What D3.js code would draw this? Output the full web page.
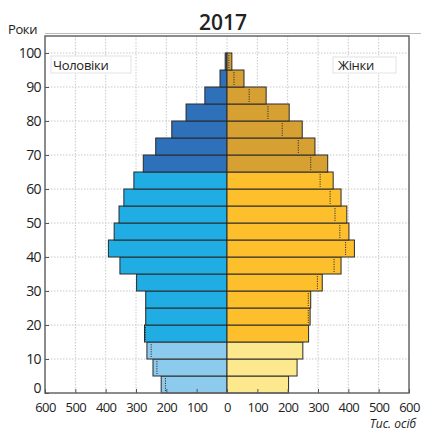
<!doctype html>
<html>
<head>
    <meta charset="utf-8">
    <style>
        body { margin: 0; background: #fff; }
        text { font-family: "Open Sans", sans-serif; fill: #222; }
        .grid line { stroke: #c8c8c8; stroke-dasharray: 1.5,1.5; }
        .axis text { font-size: 13px; letter-spacing: -0.6px; }
        .axis line { stroke: #555; }
        .axis path { display: none; }
    </style>
    <script src="https://d3js.org/d3.v7.min.js"></script>
</head>
<body>
<svg width="421" height="432"></svg>
<script>
// age groups, 5-year bands (lower bound)
var ages = [0, 5, 10, 15, 20, 25, 30, 35, 40, 45, 50, 55, 60, 65, 70, 75, 80, 85, 90, 95];
// thousand persons
var male   = [217, 244, 264, 272, 268, 268, 298, 353, 391, 372, 356, 340, 307, 276, 235, 182, 135, 73, 23, 6];
var female = [203, 231, 250, 269, 274, 276, 314, 376, 420, 402, 395, 376, 350, 332, 290, 248, 205, 129, 56, 16];
var xTicks = [-600, -500, -400, -300, -200, -100, 0, 100, 200, 300, 400, 500, 600];
var yTicks = [0, 10, 20, 30, 40, 50, 60, 70, 80, 90, 100];

var svg = d3.select("svg");

var x = d3.scaleLinear().domain([-600, 600]).range([45, 409]),
    y = d3.scaleLinear().domain([0, 105]).range([393, 36]);

function maleColor(a) { return a < 15 ? "#8dcbee" : (a < 65 ? "#1fade4" : "#2f70bb"); }
function femaleColor(a) { return a < 15 ? "#fde98d" : (a < 65 ? "#fdbf2b" : "#d6a033"); }

// thin line on top
svg.append("line")
    .attr("x1", 45).attr("x2", 421).attr("y1", 33.5).attr("y2", 33.5)
    .attr("stroke", "#bbb").attr("stroke-width", 1);

// grid
var grid = svg.append("g").attr("class", "grid");
grid.selectAll(".v").data(xTicks.slice(1, -1)).enter().append("line")
    .attr("x1", function(d) { return x(d); }).attr("x2", function(d) { return x(d); })
    .attr("y1", y(105)).attr("y2", y(0));
grid.selectAll(".h").data(yTicks.slice(1)).enter().append("line")
    .attr("x1", x(-600)).attr("x2", x(600))
    .attr("y1", function(d) { return y(d); }).attr("y2", function(d) { return y(d); });

// bars
var g = svg.append("g");
var h = y(0) - y(5);

g.selectAll(".m").data(ages).enter().append("rect")
    .attr("x", function(d, i) { return x(-male[i]); })
    .attr("y", function(d) { return y(d + 5); })
    .attr("width", function(d, i) { return x(0) - x(-male[i]); })
    .attr("height", h)
    .attr("fill", function(d) { return maleColor(d); })
    .attr("stroke", "#2a2a2a").attr("stroke-width", 1);

g.selectAll(".f").data(ages).enter().append("rect")
    .attr("x", x(0))
    .attr("y", function(d) { return y(d + 5); })
    .attr("width", function(d, i) { return x(female[i]) - x(0); })
    .attr("height", h)
    .attr("fill", function(d) { return femaleColor(d); })
    .attr("stroke", "#2a2a2a").attr("stroke-width", 1);

// dotted marker: the smaller sex mirrored onto the larger side
g.selectAll(".dot").data(ages).enter().append("line")
    .attr("x1", function(d, i) { return female[i] >= male[i] ? x(male[i]) : x(-female[i]); })
    .attr("x2", function(d, i) { return female[i] >= male[i] ? x(male[i]) : x(-female[i]); })
    .attr("y1", function(d) { return y(d + 5) + 2; })
    .attr("y2", function(d) { return y(d) - 2; })
    .attr("stroke", "#333").attr("stroke-width", 1)
    .attr("stroke-dasharray", "1.2,1.2");

// frame
svg.append("rect")
    .attr("x", x(-600)).attr("y", y(105))
    .attr("width", x(600) - x(-600)).attr("height", y(0) - y(105))
    .attr("fill", "none").attr("stroke", "#666").attr("stroke-width", 1.5);

// axes
svg.append("g").attr("class", "axis")
    .attr("transform", "translate(0," + y(0) + ")")
    .call(d3.axisBottom(x).tickValues(xTicks).tickSize(-4).tickPadding(10)
        .tickFormat(function(d) { return Math.abs(d); }));

var yAxis = svg.append("g").attr("class", "axis")
    .attr("transform", "translate(" + x(-600) + ",0)")
    .call(d3.axisLeft(y).tickValues(yTicks).tickSize(-4).tickPadding(4));
yAxis.selectAll(".tick text").style("font-size", "14px")
    .attr("dy", function(d) { return d === 0 ? "-0.05em" : "0.32em"; });

// texts
svg.append("text").attr("x", 223).attr("y", 30).attr("text-anchor", "middle")
    .style("font-size", "21px").style("font-weight", "600").text("2017");
svg.append("text").attr("x", 8).attr("y", 34)
    .style("font-size", "13px").style("letter-spacing", "-0.4px").text("Роки");
svg.append("text").attr("x", 416).attr("y", 428).attr("text-anchor", "end")
    .style("font-size", "12px").style("font-style", "italic").text("Тис. осіб");

// legend labels with faint boxes
svg.append("rect").attr("x", 51).attr("y", 56).attr("width", 80).attr("height", 17)
    .attr("fill", "#fff").attr("stroke", "#e2e2e2");
svg.append("text").attr("x", 53).attr("y", 70)
    .style("font-size", "13px").style("letter-spacing", "-0.3px").text("Чоловіки");
svg.append("rect").attr("x", 333).attr("y", 57).attr("width", 63).attr("height", 16)
    .attr("fill", "#fff").attr("stroke", "#e2e2e2");
svg.append("text").attr("x", 338).attr("y", 70)
    .style("font-size", "13px").style("letter-spacing", "-0.3px").text("Жінки");
</script>
</body>
</html>
